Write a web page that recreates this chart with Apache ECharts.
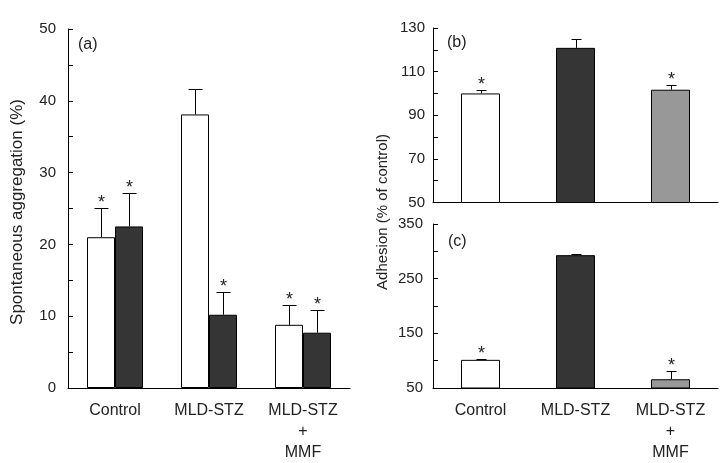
<!DOCTYPE html>
<html><head><meta charset="utf-8">
<script src="https://cdn.jsdelivr.net/npm/echarts@6/dist/echarts.min.js"></script>
<style>html,body{margin:0;padding:0;background:#fff}#c{width:727px;height:463px}</style>
</head><body><div id="c"></div>
<script>
// ---- data ----
const categories = ['Control', 'MLD-STZ', 'MLD-STZ\n+\nMMF'];
// panel (a): spontaneous aggregation (%)
const aggWhite = [21.0, 38.1, 8.8];
const aggWhiteErr = [4.1, 3.6, 2.8];
const aggWhiteSig = [1, 0, 1];
const aggBlack = [22.5, 10.2, 7.7];
const aggBlackErr = [4.6, 3.2, 3.2];
const aggBlackSig = [1, 1, 1];
// panel (b): adhesion (% of control)
const adhB = [100.0, 120.9, 101.7];
const adhBErr = [1.7, 4.0, 2.1];
const adhBSig = [1, 0, 1];
// panel (c): adhesion (% of control)
const adhC = [101.5, 293.0, 66.0];
const adhCErr = [1.8, 3.0, 14.3];
const adhCSig = [1, 0, 1];
const aTicks = {min: 0, max: 50, interval: 5};
const bTicks = {min: 50, max: 130, interval: 10};
const cTicks = {min: 50, max: 350, interval: 50};

// ---- styles ----
const FONT = 'Liberation Sans, Arial, sans-serif';
const TXT = '#222';
const groupColors = ['#ffffff', '#353535', '#989898'];

const chart = echarts.init(document.getElementById('c'), null, {renderer: 'canvas'});

function errSeries(name, xi, yi, vals, errs, sig, offset, capHalf) {
  return {
    type: 'custom', name, xAxisIndex: xi, yAxisIndex: yi, z: 5,
    data: vals.map((v, i) => [i, v, errs[i], sig[i]]),
    renderItem: function (params, api) {
      const i = api.value(0), v = api.value(1), e = api.value(2), s = api.value(3);
      const b = api.coord([i, v]);
      const t = api.coord([i, v + e]);
      const x = Math.round(b[0] + offset) + 0.5;
      const yt = Math.round(t[1]) + 0.5;
      const children = [
        {type: 'line', shape: {x1: x, y1: b[1], x2: x, y2: yt}, style: {stroke: '#000', lineWidth: 1}},
        {type: 'line', shape: {x1: x - capHalf, y1: yt, x2: x + capHalf, y2: yt}, style: {stroke: '#000', lineWidth: 1}}
      ];
      if (s) {
        children.push({type: 'text', style: {text: '*', x: x, y: yt - 5, textAlign: 'center', textVerticalAlign: 'middle', font: '18px ' + FONT, fill: TXT}});
      }
      return {type: 'group', children};
    }
  };
}

const yAxisCommon = {
  type: 'value',
  splitLine: {show: false},
  axisLine: {show: true, lineStyle: {color: '#000', width: 1}},
  axisTick: {show: true, inside: true, length: 5, lineStyle: {color: '#000'}},
  axisLabel: {color: TXT, fontSize: 15, fontFamily: FONT, margin: 9}
};
const xAxisCommon = {
  type: 'category', data: categories,
  axisLine: {show: true, lineStyle: {color: '#000', width: 1}},
  axisTick: {show: false},
  axisLabel: {color: TXT, fontSize: 16, fontFamily: FONT, margin: 12, lineHeight: 21, interval: 0}
};

function labelEvery(step, min) {
  return function (v) { return ((v - min) % step === 0) ? String(v) : ''; };
}

const option = {
  animation: false,
  textStyle: {fontFamily: FONT},
  grid: [
    {left: 68, top: 29, width: 282, height: 363},
    {left: 433, top: 28, width: 285, height: 174.5},
    {left: 433, top: 224, width: 285, height: 168.3}
  ],
  xAxis: [
    Object.assign({}, xAxisCommon, {gridIndex: 0}),
    Object.assign({}, xAxisCommon, {gridIndex: 1, axisLabel: {show: false}}),
    Object.assign({}, xAxisCommon, {gridIndex: 2})
  ],
  yAxis: [
    Object.assign({}, yAxisCommon, {gridIndex: 0, min: aTicks.min, max: aTicks.max, interval: aTicks.interval,
      axisLabel: Object.assign({}, yAxisCommon.axisLabel, {margin: 12, formatter: labelEvery(10, 0)})}),
    Object.assign({}, yAxisCommon, {gridIndex: 1, min: bTicks.min, max: bTicks.max, interval: bTicks.interval,
      axisLabel: Object.assign({}, yAxisCommon.axisLabel, {margin: 8, formatter: labelEvery(20, 50)})}),
    Object.assign({}, yAxisCommon, {gridIndex: 2, min: cTicks.min, max: cTicks.max, interval: cTicks.interval,
      axisLabel: Object.assign({}, yAxisCommon.axisLabel, {margin: 10, formatter: labelEvery(100, 50)})})
  ],
  series: [
    {type: 'bar', xAxisIndex: 0, yAxisIndex: 0, data: aggWhite, barWidth: 28, barGap: '0%',
      itemStyle: {color: '#fff', borderColor: '#000', borderWidth: 1}},
    {type: 'bar', xAxisIndex: 0, yAxisIndex: 0, data: aggBlack, barWidth: 28, barGap: '0%',
      itemStyle: {color: '#353535', borderColor: '#000', borderWidth: 1}},
    errSeries('aw', 0, 0, aggWhite, aggWhiteErr, aggWhiteSig, -14, 7),
    errSeries('ab', 0, 0, aggBlack, aggBlackErr, aggBlackSig, 14, 7),
    {type: 'bar', xAxisIndex: 1, yAxisIndex: 1, barWidth: 39,
      data: adhB.map((v, i) => ({value: v, itemStyle: {color: groupColors[i]}})),
      itemStyle: {borderColor: '#000', borderWidth: 1}},
    errSeries('b', 1, 1, adhB, adhBErr, adhBSig, 0, 5),
    {type: 'bar', xAxisIndex: 2, yAxisIndex: 2, barWidth: 39,
      data: adhC.map((v, i) => ({value: v, itemStyle: {color: groupColors[i]}})),
      itemStyle: {borderColor: '#000', borderWidth: 1}},
    errSeries('c', 2, 2, adhC, adhCErr, adhCSig, 0, 5)
  ],
  graphic: [
    {type: 'text', left: 78, top: 37, style: {text: '(a)', font: '16px ' + FONT, fill: TXT}},
    {type: 'text', left: 447, top: 35, style: {text: '(b)', font: '16px ' + FONT, fill: TXT}},
    {type: 'text', left: 448, top: 234, style: {text: '(c)', font: '16px ' + FONT, fill: TXT}},
    {type: 'text', x: 17, y: 212, rotation: Math.PI / 2,
      style: {text: 'Spontaneous aggregation (%)', font: '17px ' + FONT, fill: TXT, textAlign: 'center', textVerticalAlign: 'middle'}},
    {type: 'text', x: 383, y: 212, rotation: Math.PI / 2,
      style: {text: 'Adhesion (% of control)', font: '15px ' + FONT, fill: TXT, textAlign: 'center', textVerticalAlign: 'middle'}}
  ]
};
chart.setOption(option);
</script>
</body></html>
